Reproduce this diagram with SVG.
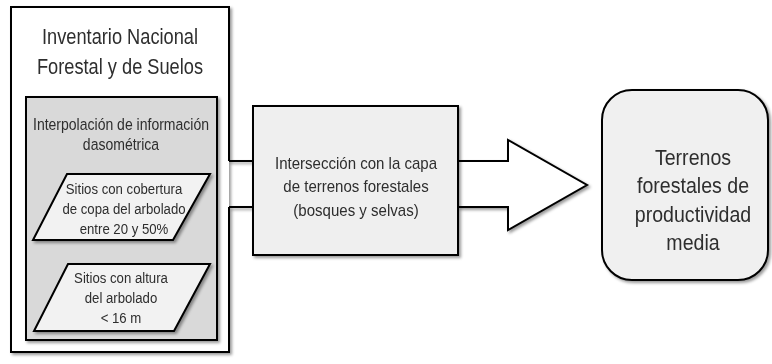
<svg xmlns="http://www.w3.org/2000/svg" width="772" height="364" viewBox="0 0 772 364">
<defs>
<filter id="sh" x="-10%" y="-10%" width="130%" height="130%">
<feDropShadow dx="2" dy="2" stdDeviation="1.5" flood-color="#000" flood-opacity="0.4"/>
</filter>
</defs>
<style>
.t{font-family:"Liberation Sans",Arial,sans-serif;fill:#2e2e2e;text-anchor:middle}
.s{stroke:#000;stroke-width:2;stroke-linejoin:miter}
</style>
<rect width="772" height="364" fill="#fff"/>
<g id="inventario" filter="url(#sh)">
<rect x="11" y="7" width="218" height="345" fill="#fff"/>
<path class="s" fill="none" d="M229,161 V7 H11 V352 H229 V207"/>
<g transform="translate(120,0) scale(0.81,1)">
<text class="t" x="0" y="44" font-size="22.5">Inventario Nacional</text>
<text class="t" x="0" y="74" font-size="22.5">Forestal y de Suelos</text>
</g>
</g>
<g id="interpolacion" filter="url(#sh)">
<rect class="s" x="26" y="97" width="191" height="243" fill="#d9d9d9"/>
<g transform="translate(121,0) scale(0.85,1)">
<text class="t" x="0" y="130.5" font-size="16.5">Interpolación de información</text>
<text class="t" x="0" y="150.5" font-size="16.5">dasométrica</text>
</g>
</g>
<g id="cobertura" filter="url(#sh)">
<polygon class="s" points="67,174 210,174 173,240 33,240" fill="#f2f2f2"/>
<g transform="translate(124,0) scale(0.88,1)">
<text class="t" x="0" y="194" font-size="15">Sitios con cobertura</text>
<text class="t" x="0" y="214" font-size="15">de copa del arbolado</text>
<text class="t" x="0" y="234" font-size="15">entre 20 y 50%</text>
</g>
</g>
<g id="altura" filter="url(#sh)">
<polygon class="s" points="68,264 210,264 174,331 34,331" fill="#f2f2f2"/>
<g transform="translate(121,0) scale(0.88,1)">
<text class="t" x="0" y="283.5" font-size="15">Sitios con altura</text>
<text class="t" x="0" y="303.5" font-size="15">del arbolado</text>
<text class="t" x="0" y="323.5" font-size="15">&lt; 16 m</text>
</g>
</g>
<g id="connectors" filter="url(#sh)">
<path class="s" fill="none" d="M229,161 H253 M229,207 H253"/>
<path class="s" fill="#fff" d="M458,161 H508 V140 L587,185 L508,230 V207 H458"/>
</g>
<g id="interseccion" filter="url(#sh)">
<rect class="s" x="253" y="106" width="205" height="149" fill="#efefef"/>
<g transform="translate(356,0) scale(0.94,1)">
<text class="t" x="0" y="169" font-size="16">Intersección con la capa</text>
<text class="t" x="0" y="192.5" font-size="16">de terrenos forestales</text>
<text class="t" x="0" y="216" font-size="16">(bosques y selvas)</text>
</g>
</g>
<g id="terrenos" filter="url(#sh)">
<rect class="s" x="602" y="90" width="166" height="190" rx="30" ry="30" fill="#f0f0f0"/>
<g transform="translate(693,0) scale(0.89,1)">
<text class="t" x="0" y="165" font-size="22">Terrenos</text>
<text class="t" x="0" y="193.5" font-size="22">forestales de</text>
<text class="t" x="0" y="222" font-size="22">productividad</text>
<text class="t" x="0" y="250" font-size="22">media</text>
</g>
</g>
</svg>
